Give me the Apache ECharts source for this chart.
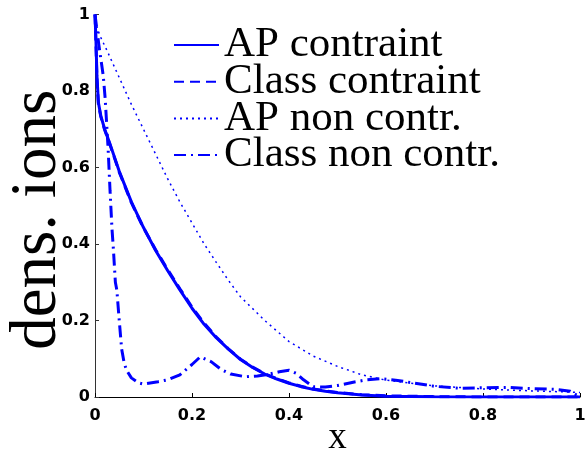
<!DOCTYPE html>
<html>
<head>
<meta charset="utf-8">
<script src="https://cdn.jsdelivr.net/npm/echarts@6/dist/echarts.min.js"></script>
<style>html,body{margin:0;padding:0;background:#fff}#c{width:585px;height:453px}</style>
</head>
<body>
<div id="c"></div>
<script>
var seriesNames = ['AP contraint', 'Class contraint', 'AP non contr.', 'Class non contr.'];
var xTicks = [0, 0.2, 0.4, 0.6, 0.8, 1];

var apConX = [0, 0.002, 0.004, 0.007, 0.012, 0.02, 0.03, 0.05, 0.075, 0.1, 0.125, 0.15, 0.175, 0.2, 0.225, 0.25, 0.275, 0.3, 0.325, 0.35, 0.375, 0.4, 0.425, 0.45, 0.475, 0.5, 0.55, 0.6, 0.7, 0.8, 0.9, 1.0];
var apConY = [1.0, 0.93, 0.84, 0.77, 0.735, 0.7, 0.665, 0.59, 0.51, 0.443, 0.383, 0.33, 0.28, 0.232, 0.19, 0.155, 0.125, 0.098, 0.077, 0.06, 0.047, 0.036, 0.027, 0.02, 0.015, 0.011, 0.005, 0.002, 0.0005, 0, 0, 0];

var clConX = [0, 0.002, 0.004, 0.007, 0.012, 0.02, 0.03, 0.05, 0.075, 0.1, 0.125, 0.15, 0.175, 0.2, 0.225, 0.25, 0.275, 0.3, 0.325, 0.35, 0.375, 0.4, 0.425, 0.45, 0.475, 0.5, 0.55, 0.6, 0.7, 0.8, 0.9, 1.0];
var clConY = [1.0, 0.92, 0.83, 0.765, 0.733, 0.698, 0.663, 0.588, 0.508, 0.442, 0.385, 0.333, 0.283, 0.235, 0.193, 0.157, 0.126, 0.099, 0.078, 0.061, 0.048, 0.037, 0.028, 0.021, 0.016, 0.012, 0.006, 0.003, 0.001, 0, 0, 0];

var apNonX = [0, 0.01, 0.025, 0.05, 0.075, 0.1, 0.125, 0.15, 0.175, 0.2, 0.225, 0.25, 0.275, 0.3, 0.35, 0.4, 0.45, 0.5, 0.55, 0.6, 0.7, 0.8, 0.9, 1.0];
var apNonY = [0.985, 0.945, 0.905, 0.835, 0.765, 0.7, 0.635, 0.57, 0.51, 0.455, 0.4, 0.352, 0.305, 0.262, 0.2, 0.145, 0.107, 0.08, 0.058, 0.044, 0.029, 0.021, 0.016, 0.012];

var clNonX = [0, 0.008, 0.017, 0.021, 0.027, 0.031, 0.035, 0.038, 0.042, 0.045, 0.05, 0.055, 0.06, 0.065, 0.075, 0.09, 0.1, 0.13, 0.15, 0.175, 0.2, 0.217, 0.24, 0.26, 0.28, 0.31, 0.335, 0.36, 0.38, 0.4, 0.415, 0.43, 0.45, 0.475, 0.5, 0.53, 0.56, 0.59, 0.62, 0.65, 0.7, 0.75, 0.8, 0.85, 0.9, 0.95, 0.98, 1.0];
var clNonY = [1.0, 0.92, 0.84, 0.78, 0.65, 0.54, 0.44, 0.385, 0.3, 0.28, 0.2, 0.125, 0.09, 0.07, 0.05, 0.037, 0.034, 0.04, 0.045, 0.058, 0.085, 0.105, 0.092, 0.072, 0.06, 0.053, 0.055, 0.06, 0.066, 0.07, 0.062, 0.045, 0.027, 0.026, 0.03, 0.038, 0.045, 0.048, 0.044, 0.038, 0.028, 0.023, 0.024, 0.025, 0.022, 0.02, 0.015, 0.0];

function pairs(xs, ys) { return xs.map(function (x, i) { return [x, ys[i]]; }); }

var BLUE = '#0000ff';
var tickFont = { fontFamily: 'DejaVu Sans', fontWeight: 'bold', fontSize: 16, color: '#000' };

function lineSeries(name, xs, ys, width, type) {
  return { name: name, type: 'line', data: pairs(xs, ys), showSymbol: false, symbol: 'none', smooth: false,
    lineStyle: { color: BLUE, width: width, type: type }, itemStyle: { color: BLUE } };
}

var chart = echarts.init(document.getElementById('c'), null, { renderer: 'canvas' });
chart.setOption({
  animation: false,
  backgroundColor: '#fff',
  grid: { left: 95, right: 5, top: 14.5, bottom: 56, containLabel: false, outerBoundsMode: 'none' },
  legend: {
    orient: 'vertical',
    left: 173,
    top: 23.5,
    padding: 0,
    itemWidth: 45,
    itemHeight: 20,
    itemGap: -6.3,
    data: seriesNames,
    itemStyle: { opacity: 0 },
    textStyle: { fontFamily: 'Liberation Serif', fontSize: 43, color: '#000' }
  },
  xAxis: {
    type: 'value', min: 0, max: 1, interval: 0.2,
    name: 'x', nameLocation: 'middle', nameGap: 23, nameMoveOverlap: false,
    nameTextStyle: { fontFamily: 'Liberation Serif', fontSize: 37, color: '#000', verticalAlign: 'top' },
    axisLine: { lineStyle: { color: '#000', width: 1 } },
    axisTick: { inside: true, length: 4, lineStyle: { color: '#000' } },
    axisLabel: Object.assign({ margin: 11 }, tickFont),
    splitLine: { show: false }
  },
  yAxis: {
    type: 'value', min: 0, max: 1, interval: 0.2,
    name: 'dens. ions', nameLocation: 'middle', nameGap: 25, nameRotate: 90, nameMoveOverlap: false,
    nameTextStyle: { fontFamily: 'Liberation Serif', fontSize: 65, color: '#000', padding: [0, 28, 0, 0] },
    axisLine: { show: true, lineStyle: { color: '#333', width: 1 } },
    axisTick: { show: true, inside: true, length: 4, lineStyle: { color: '#333' } },
    axisLabel: Object.assign({ margin: 5 }, tickFont),
    splitLine: { show: false }
  },
  series: [
    lineSeries(seriesNames[0], apConX, apConY, 3, 'solid'),
    lineSeries(seriesNames[1], clConX, clConY, 3, [10, 6]),
    lineSeries(seriesNames[2], apNonX, apNonY, 1.5, [2, 4]),
    lineSeries(seriesNames[3], clNonX, clNonY, 3, [12, 5, 2, 5])
  ]
});
</script>
</body>
</html>
